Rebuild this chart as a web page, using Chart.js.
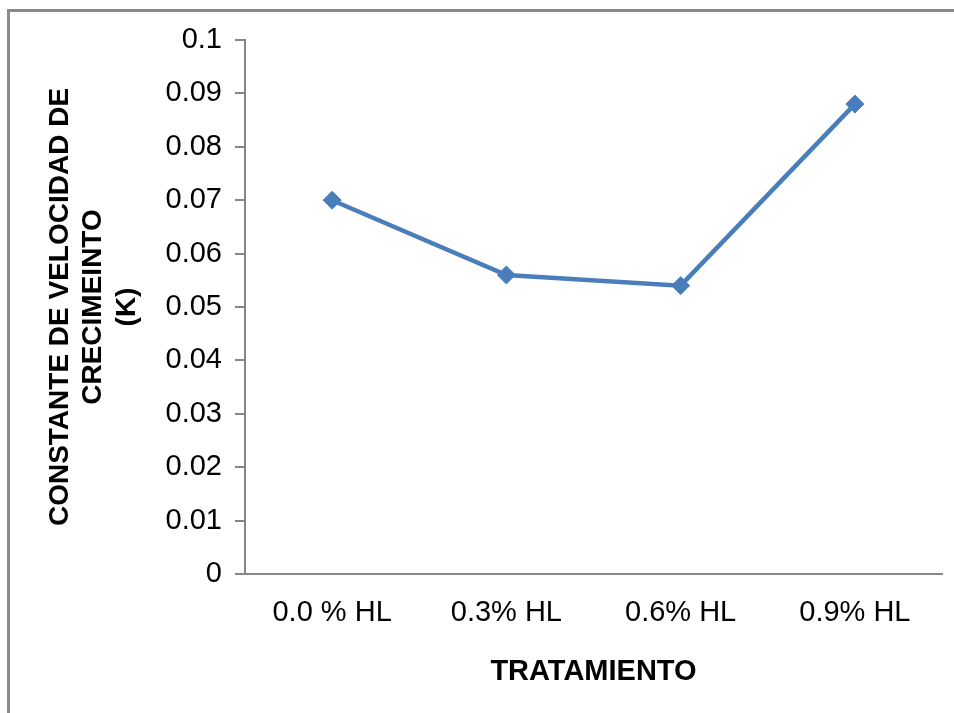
<!DOCTYPE html>
<html lang="es">
<head>
  <meta charset="UTF-8">
  <title>Constante de velocidad de crecimiento</title>
  <script src="https://cdn.jsdelivr.net/npm/chart.js"></script>
  <style>
    html, body { margin: 0; padding: 0; background: #fff; overflow: hidden; }
    #wrap { width: 954px; height: 713px; }
  </style>
</head>
<body>
  <div id="wrap"><canvas id="kChart" width="954" height="713"></canvas></div>

  <script>
    const tratamientos = ['0.0 % HL', '0.3% HL', '0.6% HL', '0.9% HL'];
    const valoresK = [0.070, 0.056, 0.054, 0.088];
    const yMin = 0, yMax = 0.1, yStep = 0.01;

    const tituloY = ['CONSTANTE DE VELOCIDAD DE', 'CRECIMEINTO', '(K)'];
    const tituloX = 'TRATAMIENTO';

    const azul = '#4a7ebb';
    const gris = '#868686';

    // marco gris: solo borde superior e izquierdo (el resto queda recortado)
    const marco = {
      id: 'marco',
      beforeDraw(chart) {
        const c = chart.ctx;
        c.save();
        c.strokeStyle = '#8a8a8a';
        c.lineWidth = 3;
        c.beginPath();
        c.moveTo(8.5, chart.height);
        c.lineTo(8.5, 10.5);
        c.lineTo(chart.width, 10.5);
        c.stroke();
        c.restore();
      }
    };

    const ctx = document.getElementById('kChart').getContext('2d');
    new Chart(ctx, {
      type: 'line',
      data: {
        labels: tratamientos,
        datasets: [{
          data: valoresK,
          borderColor: azul,
          backgroundColor: azul,
          borderWidth: 4.5,
          pointStyle: 'rectRot',
          pointRadius: 9,
          pointBorderWidth: 1,
          tension: 0
        }]
      },
      options: {
        responsive: false,
        animation: false,
        layout: { padding: { top: 40, right: 12, left: 0, bottom: 0 } },
        plugins: { legend: { display: false }, tooltip: { enabled: false } },
        scales: {
          x: {
            offset: true,
            grid: { display: false, drawTicks: false },
            border: { color: gris, width: 2 },
            ticks: { color: '#000', padding: 22, font: { family: 'Liberation Sans, Arial', size: 29 } },
            title: {
              display: true, text: tituloX, color: '#000',
              padding: { top: 0, bottom: 24 },
              font: { family: 'Liberation Sans, Arial', size: 29, weight: 'bold' }
            },
            afterFit(scale) { scale.height = 139; }
          },
          y: {
            min: yMin, max: yMax,
            grid: { drawOnChartArea: false, drawTicks: true, tickLength: 10, color: gris, lineWidth: 2 },
            border: { color: gris, width: 2 },
            ticks: {
              stepSize: yStep, color: '#000', padding: 13,
              font: { family: 'Liberation Sans, Arial', size: 29 },
              callback: v => +v.toFixed(2)
            },
            title: {
              display: true, text: tituloY, color: '#000',
              padding: { top: 43, bottom: 0 },
              font: { family: 'Liberation Sans, Arial', size: 28, weight: 'bold', lineHeight: 1.2 }
            },
            afterFit(scale) { scale.width = 245; }
          }
        }
      },
      plugins: [marco]
    });
  </script>
</body>
</html>
